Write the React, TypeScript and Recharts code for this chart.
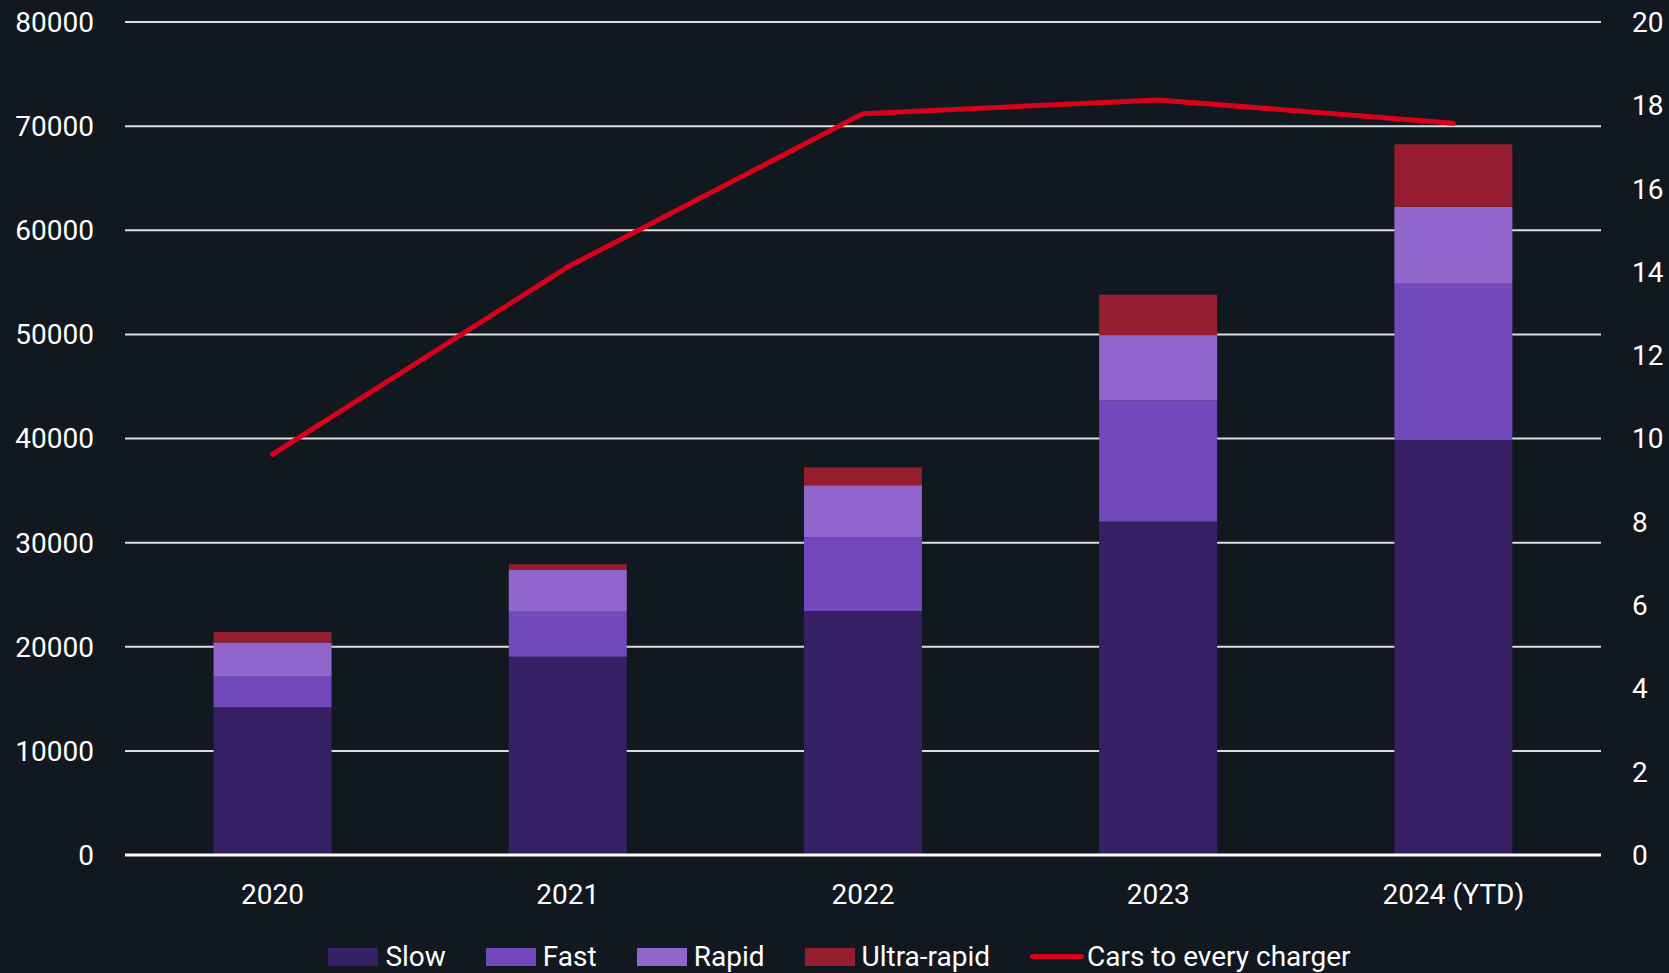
import { ComposedChart, Bar, Line, XAxis, YAxis, CartesianGrid, Legend } from 'recharts';

const YEARS = ['2020', '2021', '2022', '2023', '2024 (YTD)'];
const SLOW = [14200, 19050, 23430, 32020, 39860];
const FAST = [2930, 4300, 7060, 11660, 15000];
const RAPID = [3270, 4070, 5010, 6240, 7400];
const ULTRA = [1020, 510, 1740, 3890, 5990];
const CARS_PER_CHARGER = [9.62, 14.12, 17.8, 18.13, 17.57];

const LEFT_TICKS = [0, 10000, 20000, 30000, 40000, 50000, 60000, 70000, 80000];
const RIGHT_TICKS = [0, 2, 4, 6, 8, 10, 12, 14, 16, 18, 20];

const BG = '#111820';
const FONT = 'Roboto, "Noto Sans", sans-serif';

const SERIES = [
  { key: 'slow', name: 'Slow', color: '#371f66' },
  { key: 'fast', name: 'Fast', color: '#7249bb' },
  { key: 'rapid', name: 'Rapid', color: '#9166cc' },
  { key: 'ultra', name: 'Ultra-rapid', color: '#961c2f' },
];
const LINE_COLOR = '#d9001b';

const data = YEARS.map((year, i) => ({
  year,
  slow: SLOW[i],
  fast: FAST[i],
  rapid: RAPID[i],
  ultra: ULTRA[i],
  cars: CARS_PER_CHARGER[i],
}));

const renderLegend = () => (
  <div
    style={{
      display: 'flex',
      justifyContent: 'center',
      alignItems: 'center',
      gap: 40,
      color: '#fff',
      fontFamily: FONT,
      fontSize: 28,
      paddingLeft: 10,
      paddingTop: 25,
    }}
  >
    {SERIES.map((s) => (
      <div key={s.key} style={{ display: 'flex', alignItems: 'center', gap: 7 }}>
        <div style={{ width: 50, height: 18, background: s.color }} />
        <span>{s.name}</span>
      </div>
    ))}
    <div style={{ display: 'flex', alignItems: 'center', gap: 3 }}>
      <div style={{ width: 54, height: 5, borderRadius: 3, background: LINE_COLOR }} />
      <span>Cars to every charger</span>
    </div>
  </div>
);

export default function App() {
  return (
    <div style={{ position: 'absolute', left: 0, top: 0, width: 1669, height: 973, background: BG }}>
      <ComposedChart
        width={1669}
        height={973}
        data={data}
        margin={{ top: 22, right: 0, left: 0, bottom: 0 }}
        barCategoryGap="30%"
      >
        <CartesianGrid yAxisId="left" vertical={false} stroke="#dcdcdc" strokeWidth={2} />
        <XAxis
          dataKey="year"
          axisLine={{ stroke: '#ffffff', strokeWidth: 3 }}
          tickLine={false}
          tick={{ fill: '#ffffff', fontSize: 28, fontFamily: FONT }}
          tickMargin={23}
          height={60}
        />
        <YAxis
          yAxisId="left"
          domain={[0, 80000]}
          ticks={LEFT_TICKS}
          axisLine={false}
          tickLine={false}
          tick={{ fill: '#ffffff', fontSize: 28, fontFamily: FONT }}
          tickMargin={25}
          width={125}
        />
        <YAxis
          yAxisId="right"
          orientation="right"
          domain={[0, 20]}
          ticks={RIGHT_TICKS}
          axisLine={false}
          tickLine={false}
          tick={{ fill: '#ffffff', fontSize: 28, fontFamily: FONT, textAnchor: 'start' }}
          tickMargin={25}
          width={68}
        />
        {SERIES.map((s) => (
          <Bar
            key={s.key}
            yAxisId="left"
            dataKey={s.key}
            name={s.name}
            stackId="a"
            fill={s.color}
            isAnimationActive={false}
          />
        ))}
        <Line
          yAxisId="right"
          dataKey="cars"
          name="Cars to every charger"
          stroke={LINE_COLOR}
          strokeWidth={5}
          strokeLinecap="round"
          dot={false}
          activeDot={false}
          type="linear"
          isAnimationActive={false}
        />
        <Legend verticalAlign="bottom" height={58} content={renderLegend} />
      </ComposedChart>
    </div>
  );
}
